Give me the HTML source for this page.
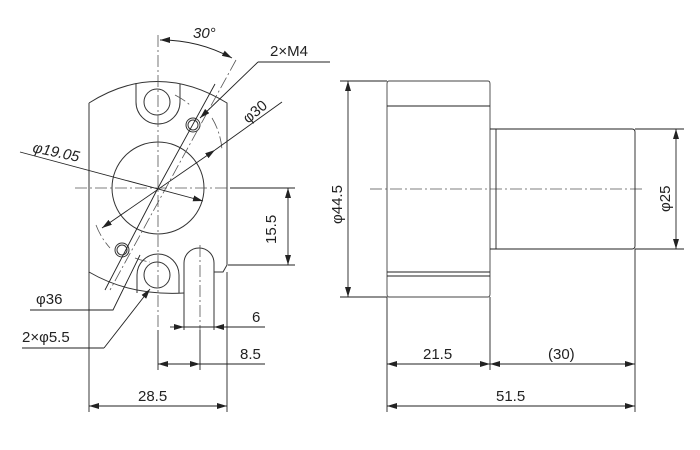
<!DOCTYPE html>
<html><head><meta charset="utf-8"><style>body{margin:0;background:#fff}svg{display:block}text{font-family:"Liberation Sans",sans-serif;font-size:15px;fill:#222}</style></head><body>
<svg width="700" height="450" viewBox="0 0 700 450">
<defs><marker id="a" markerWidth="10" markerHeight="6" refX="10" refY="3" orient="auto-start-reverse" markerUnits="userSpaceOnUse"><path d="M0,0L10,3L0,6z" fill="#222"/></marker></defs>
<g fill="none" stroke="#333" stroke-width="1">
<path d="M89,103 Q157,60 227,103 L227,265 L223,272 L214,272 M89,103 L89,272 Q130,296 184,293"/>
<path d="M136,83 L136,102 A22,22 0 0 0 180,102 L180,84"/>
<circle cx="157" cy="102" r="13"/>
<path d="M137,293 L137,275 A21,21 0 0 1 179,275 L179,293"/>
<circle cx="157" cy="275" r="13"/>
<path d="M184,330 L184,263 A15,15 0 0 1 214,263 L214,330"/>
<circle cx="158" cy="188" r="46"/>
<circle cx="193" cy="125" r="7"/><circle cx="193" cy="125" r="5"/>
<circle cx="122" cy="250" r="7"/><circle cx="122" cy="250" r="5"/>
</g>
<g fill="none" stroke="#555" stroke-width="0.8" stroke-dasharray="12,3,2,3">
<line x1="158" y1="35" x2="158" y2="330"/>
<line x1="75" y1="188" x2="235" y2="188"/>
<line x1="200" y1="245" x2="200" y2="330"/>
<line x1="236" y1="60" x2="110" y2="290"/>
<line x1="370" y1="189" x2="645" y2="189"/>
<path d="M212,118 A72,72 0 0 1 222,150 M96,225 A72,72 0 0 0 110,248 M175,95 A72,72 0 0 1 190,105 M135,258 A72,72 0 0 0 150,262"/>
</g>
<g fill="none" stroke="#222" stroke-width="0.9">
<line x1="158" y1="188" x2="215" y2="84"/>
<line x1="158" y1="188" x2="105" y2="290"/>
<path d="M160,40 A150,150 0 0 1 232,58" marker-start="url(#a)" marker-end="url(#a)"/>
<path d="M258,62 L330,62"/><line x1="258" y1="62" x2="200" y2="118" marker-end="url(#a)"/>
<line x1="102" y1="228" x2="215" y2="150" marker-start="url(#a)" marker-end="url(#a)"/>
<line x1="215" y1="150" x2="282" y2="102"/>
<line x1="20" y1="152" x2="203" y2="201" marker-end="url(#a)"/>
<path d="M30,310 L113,310 L140,255"/>
<path d="M22,348 L104,348"/><line x1="104" y1="348" x2="150" y2="289" marker-end="url(#a)"/>
<line x1="230" y1="188" x2="295" y2="188"/><line x1="228" y1="265" x2="295" y2="265"/>
<line x1="288" y1="188" x2="288" y2="265" marker-start="url(#a)" marker-end="url(#a)"/>
<line x1="170" y1="327" x2="184" y2="327" marker-end="url(#a)"/>
<line x1="265" y1="327" x2="214" y2="327" marker-end="url(#a)"/>
<line x1="184" y1="327" x2="214" y2="327"/>
<line x1="158" y1="364" x2="200" y2="364" marker-start="url(#a)" marker-end="url(#a)"/>
<line x1="200" y1="364" x2="265" y2="364"/>
<line x1="158" y1="330" x2="158" y2="370"/><line x1="200" y1="330" x2="200" y2="370"/>
<line x1="89" y1="272" x2="89" y2="412"/><line x1="227" y1="272" x2="227" y2="412"/>
<line x1="89" y1="406" x2="227" y2="406" marker-start="url(#a)" marker-end="url(#a)"/>
<path d="M389,81 L488,81 Q490,81 490,84 L490,294 Q490,297 488,297 L389,297 Q387,297 387,294 L387,84 Q387,81 389,81 Z" stroke="#444"/>
<line x1="387" y1="106" x2="490" y2="106"/><line x1="387" y1="272" x2="490" y2="272"/><line x1="387" y1="276" x2="490" y2="276"/>
<path d="M490,129 L496,129 L496,249 L490,249 M496,129 L632,129 Q635,129 635,132 L635,246 Q635,249 632,249 L496,249"/>
<line x1="340" y1="81" x2="387" y2="81"/><line x1="340" y1="297" x2="387" y2="297"/>
<line x1="348" y1="81" x2="348" y2="297" marker-start="url(#a)" marker-end="url(#a)"/>
<line x1="635" y1="129" x2="684" y2="129"/><line x1="635" y1="249" x2="684" y2="249"/>
<line x1="676" y1="129" x2="676" y2="249" marker-start="url(#a)" marker-end="url(#a)"/>
<line x1="387" y1="297" x2="387" y2="412"/><line x1="490" y1="297" x2="490" y2="370"/><line x1="635" y1="249" x2="635" y2="412"/>
<line x1="387" y1="364" x2="490" y2="364" marker-start="url(#a)" marker-end="url(#a)"/>
<line x1="490" y1="364" x2="635" y2="364" marker-start="url(#a)" marker-end="url(#a)"/>
<line x1="387" y1="406" x2="635" y2="406" marker-start="url(#a)" marker-end="url(#a)"/>
</g>
<text x="193" y="38" font-style="italic">30°</text>
<text x="270" y="56">2×M4</text>
<text x="0" y="0" transform="translate(248,124) rotate(-40)">φ30</text>
<text x="0" y="0" transform="translate(32,152) rotate(12)" font-style="italic">φ19.05</text>
<text x="36" y="304">φ36</text>
<text x="22" y="342">2×φ5.5</text>
<text x="0" y="0" transform="translate(276,244) rotate(-90)">15.5</text>
<text x="252" y="322">6</text>
<text x="240" y="359">8.5</text>
<text x="138" y="401">28.5</text>
<text x="0" y="0" transform="translate(342,224) rotate(-90)">φ44.5</text>
<text x="0" y="0" transform="translate(670,212) rotate(-90)">φ25</text>
<text x="423" y="359">21.5</text>
<text x="548" y="359">(30)</text>
<text x="496" y="401">51.5</text>
</svg>
</body></html>
